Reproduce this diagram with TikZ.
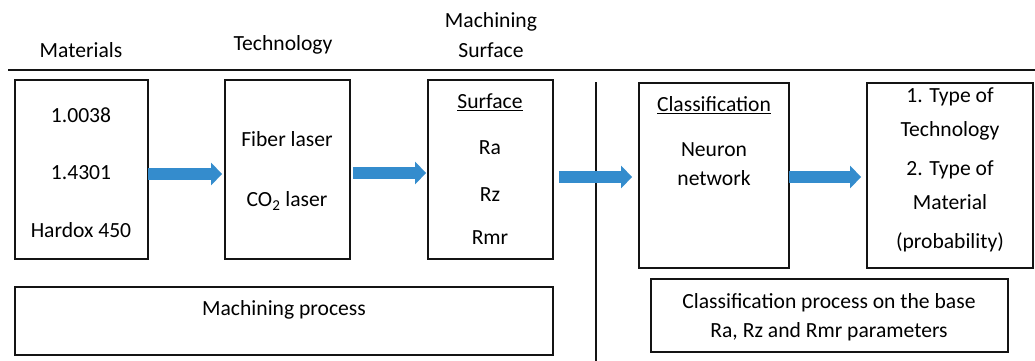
\documentclass[tikz,border=0pt]{standalone}
\usepackage{fontspec}
\setmainfont{Carlito}
\usetikzlibrary{arrows.meta}
\definecolor{arr}{RGB}{52, 140, 205}
\definecolor{edge}{RGB}{20, 20, 20}

\begin{document}
\begin{tikzpicture}[x=1pt, y=-1pt, font=\fontsize{21.6}{26}\selectfont,
    box/.style={draw=edge, line width=1.8pt, inner sep=0pt},
    flow/.style={color=arr, line width=12pt, -{Triangle[length=11pt, width=22pt]}}]
      \useasboundingbox (0, 0) rectangle (1035, 361);
      \draw[color=edge, line width=1.8pt] (8, 70)--(1035, 70);
      \draw[color=edge, line width=1.8pt] (596, 82)--(596, 361);
      \node(hmat) at (81, 50) {Materials};
      \node(htech) at (283, 45) {Technology};
      \node(hsurf1) at (491, 22) {Machining};
      \node(hsurf2) at (491, 50) {Surface};
      \node[box, minimum width=133pt, minimum height=179pt](mat) at (81.5, 169.5) {};
      \node[box, minimum width=125pt, minimum height=179pt](tech) at (287.5, 169.5) {};
      \node[box, minimum width=125pt, minimum height=179pt](surf) at (490.5, 169.5) {};
      \node[box, minimum width=150pt, minimum height=185pt](cls) at (714, 175.5) {};
      \node[box, minimum width=166pt, minimum height=185pt](res) at (950, 175.5) {};
      \node[box, minimum width=538pt, minimum height=68pt](mproc) at (284, 321) {};
      \node[box, minimum width=357pt, minimum height=73pt](cproc) at (829.5, 315.5) {};
      \node(m1) at (81, 115) {1.0038};
      \node(m2) at (81, 173) {1.4301};
      \node(m3) at (81, 230) {Hardox 450};
      \node(t1) at (287, 139) {Fiber laser};
      \node(t2) at (287, 201) {CO\textsubscript{2} laser};
      \node(s0) at (490, 102) {\underline{Surface}};
      \node(s1) at (490, 148) {Ra};
      \node(s2) at (490, 195) {Rz};
      \node(s3) at (490, 238) {Rmr};
      \node(c0) at (714, 105) {\underline{Classification}};
      \node(c1) at (714, 150) {Neuron};
      \node(c2) at (714, 178) {network};
      \node(r1) at (950, 97) {1. Type of};
      \node(r2) at (950, 131) {Technology};
      \node(r3) at (950, 170) {2. Type of};
      \node(r4) at (950, 202) {Material};
      \node(r5) at (950, 242) {(probability)};
      \node(mp) at (284, 310) {Machining process};
      \node(cp1) at (829, 303) {Classification process on the base};
      \node(cp2) at (829, 332) {Ra, Rz and Rmr parameters};
      \draw[flow, shorten <=-1pt, shorten >=2pt] ([yshift=-4.5pt]mat.east)--([yshift=-4.5pt]tech.west);
      \draw[flow, shorten <=2pt, shorten >=1pt] ([yshift=-3.5pt]tech.east)--([yshift=-3.5pt]surf.west);
      \draw[flow, shorten <=5pt, shorten >=6pt] ([yshift=-7.5pt]surf.east)--([yshift=-7.5pt]surf.east -| cls.west);
      \draw[flow, shorten <=-1pt, shorten >=5pt] ([yshift=-1.5pt]cls.east)--([yshift=-1.5pt]res.west);
    \end{tikzpicture}
\end{document}
